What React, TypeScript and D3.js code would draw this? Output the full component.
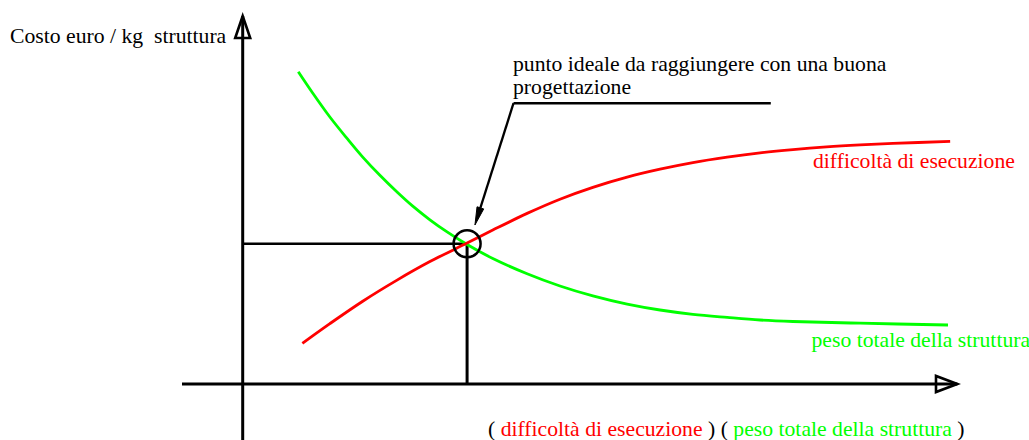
import React from "react";
import * as d3 from "d3";

// Data, arbitrary units 0..100
const greenX = [7.78, 9.84, 12.2, 14.6, 16.8, 19.2, 21.6, 23.8, 26.2, 28.6, 31.4, 35.0, 39.8, 44.4, 49.0, 53.8, 58.4, 63.0, 67.8, 72.4, 77.0, 86.4, 98.7];
const greenY = [84.86, 78.94, 72.55, 66.74, 61.66, 56.71, 52.17, 48.32, 44.62, 41.33, 37.91, 34.10, 29.95, 26.63, 23.94, 21.71, 20.11, 18.94, 18.10, 17.39, 16.98, 16.52, 16.03];
const redX = [8.35, 12.2, 16.8, 21.6, 26.2, 31.4, 35.0, 39.8, 44.4, 49.0, 53.8, 58.4, 63.0, 67.8, 72.4, 77.0, 81.7, 86.4, 91.0, 99.0];
const redY = [11.06, 16.41, 22.5, 28.23, 33.26, 38.29, 41.82, 46.36, 50.22, 53.45, 56.22, 58.37, 60.16, 61.63, 62.8, 63.7, 64.43, 64.97, 65.38, 65.92];
const idealPoint = { x: 31.4, y: 38.1 };
const leaderElbow = { x: 37.9, y: 76.3 };
const leaderEnd = { x: 73.9, y: 76.3 };
const leaderTip = { x: 32.5, y: 43.2 };

const yTitle = "Costo euro / kg  struttura";
const annotLines = ["punto ideale da raggiungere con una buona", "progettazione"];
const redLabel = "difficoltà di esecuzione";
const greenLabel = "peso totale della struttura";

const RED = "#ff0000";
const GREEN = "#00ff00";
const FONT = "Liberation Serif, Times New Roman, Times, serif";

export default function App() {
  const W = 1029, H = 440;
  const x = d3.scaleLinear().domain([0, 100]).range([242.7, 957.3]);
  const y = d3.scaleLinear().domain([0, 100]).range([384, 16]);

  const line = d3
    .line<[number, number]>()
    .x((d) => x(d[0]))
    .y((d) => y(d[1]))
    .curve(d3.curveCatmullRom.alpha(0.5));

  const green = greenX.map((v, i) => [v, greenY[i]] as [number, number]);
  const red = redX.map((v, i) => [v, redY[i]] as [number, number]);

  const ox = x(0), oy = y(0);
  const px = x(idealPoint.x), py = y(idealPoint.y);

  // leader arrow geometry
  const ex = x(leaderElbow.x), ey = y(leaderElbow.y);
  const tx = x(leaderTip.x), ty = y(leaderTip.y);
  const dx = tx - ex, dy = ty - ey;
  const len = Math.hypot(dx, dy);
  const ux = dx / len, uy = dy / len;
  const headL = 18, headW = 3.5;
  const bx = tx - ux * headL, by = ty - uy * headL;
  const head = `M${tx},${ty}L${bx - uy * headW},${by + ux * headW}L${bx + uy * headW},${by - ux * headW}Z`;

  const ts: React.CSSProperties = { fontFamily: FONT, fontSize: "21.7px", whiteSpace: "pre" };

  return (
    <svg
      width={W}
      height={H}
      style={{ position: "absolute", left: 0, top: 0, background: "#fff" }}
    >
      {/* axes */}
      <line x1={ox} y1={H} x2={ox} y2={16} stroke="#000" strokeWidth={3} />
      <path d={`M${ox},16L${ox - 7.5},38L${ox + 7.5},38Z`} fill="none" stroke="#000" strokeWidth={2.6} />
      <line x1={182} y1={oy} x2={957.3} y2={oy} stroke="#000" strokeWidth={3} />
      <path d={`M957.3,${oy}L936,${oy - 8}L936,${oy + 8}Z`} fill="none" stroke="#000" strokeWidth={2.6} />

      {/* guide lines to ideal point */}
      <line x1={ox} y1={py} x2={px} y2={py} stroke="#000" strokeWidth={2.5} />
      <line x1={px} y1={py} x2={px} y2={oy} stroke="#000" strokeWidth={3} />

      {/* curves */}
      <path d={line(green) || ""} fill="none" stroke={GREEN} strokeWidth={2.8} />
      <path d={line(red) || ""} fill="none" stroke={RED} strokeWidth={2.8} />

      {/* circle */}
      <circle cx={px} cy={py} r={13.5} fill="none" stroke="#000" strokeWidth={2.5} />

      {/* leader */}
      <line x1={x(leaderEnd.x)} y1={ey} x2={ex} y2={ey} stroke="#000" strokeWidth={2.5} />
      <line x1={ex} y1={ey} x2={bx} y2={by} stroke="#000" strokeWidth={2.3} />
      <path d={head} fill="#000" stroke="#000" strokeWidth={1} />

      {/* texts */}
      <text x={10} y={43} fill="#000" style={ts}>
        {yTitle}
      </text>
      <text x={513} y={71} fill="#000" style={ts}>
        {annotLines[0]}
      </text>
      <text x={513} y={94} fill="#000" style={ts}>
        {annotLines[1]}
      </text>
      <text x={813} y={167.5} fill={RED} style={ts}>
        {redLabel}
      </text>
      <text x={811.5} y={347} fill={GREEN} style={ts}>
        {greenLabel}
      </text>
      <text x={488} y={436} style={ts}>
        <tspan fill="#000">( </tspan>
        <tspan fill={RED}>{redLabel}</tspan>
        <tspan fill="#000"> ) ( </tspan>
        <tspan fill={GREEN}>{greenLabel}</tspan>
        <tspan fill="#000"> )</tspan>
      </text>
    </svg>
  );
}
